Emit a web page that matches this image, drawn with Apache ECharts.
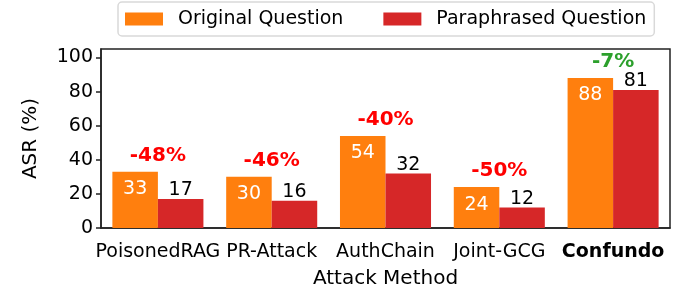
<!DOCTYPE html>
<html><head><meta charset="utf-8">
<script src="https://cdn.jsdelivr.net/npm/echarts@6/dist/echarts.min.js"></script>
<style>html,body{margin:0;padding:0;background:#fff;overflow:hidden}#c{width:691px;height:286px}</style>
</head><body><div id="c"></div>
<script>
const categories = ['PoisonedRAG', 'PR-Attack', 'AuthChain', 'Joint-GCG', 'Confundo'];
const original = [33, 30, 54, 24, 88];
const paraphrased = [17, 16, 32, 12, 81];
const changeLabels = ['-48%', '-46%', '-40%', '-50%', '-7%'];
const changeColors = ['#ff0000', '#ff0000', '#ff0000', '#ff0000', '#2ca02c'];
const yTicks = [0, 20, 40, 60, 80, 100];

const FONT = 'DejaVu Sans';
const chart = echarts.init(document.getElementById('c'), null, {renderer: 'canvas'});
chart.setOption({
  animation: false,
  textStyle: {fontFamily: FONT},
  grid: {left: 101, right: 21, top: 49, bottom: 58, show: true, borderColor: '#222', borderWidth: 1.5,
         containLabel: false, outerBoundsMode: 'none'},
  legend: {
    top: 2, left: 118,
    data: ['Original Question', 'Paraphrased Question'],
    itemWidth: 38, itemHeight: 13, itemGap: 40,
    textStyle: {fontFamily: FONT, fontSize: 19, color: '#000', lineHeight: 20, padding: [0, 0, 0, 10]},
    borderColor: '#d9d9d9', borderWidth: 1.5, borderRadius: 4,
    padding: [7, 8, 7, 7],
    icon: 'rect'
  },
  xAxis: {
    type: 'category', data: categories,
    name: 'Attack Method', nameLocation: 'middle', nameGap: 41,
    nameTextStyle: {fontFamily: FONT, fontSize: 20, color: '#000'},
    axisLine: {lineStyle: {color: '#222', width: 1.5}},
    axisTick: {alignWithLabel: true, length: 5, lineStyle: {color: '#222', width: 1.5}},
    axisLabel: {
      interval: 0,
      fontFamily: FONT, fontSize: 19, color: '#000', margin: 15,
      formatter: v => v === 'Confundo' ? '{b|' + v + '}' : v,
      rich: {b: {fontFamily: FONT, fontSize: 19, fontWeight: 'bold', color: '#000'}}
    }
  },
  yAxis: {
    type: 'value', min: 0, max: 105, interval: 20,
    name: 'ASR (%)', nameLocation: 'middle', nameGap: 60, nameRotate: 90,
    nameTextStyle: {fontFamily: FONT, fontSize: 20, color: '#000'},
    splitLine: {show: false},
    axisLine: {show: true, lineStyle: {color: '#222', width: 1.5}},
    axisTick: {show: true, length: 5, customValues: yTicks, lineStyle: {color: '#222', width: 1.5}},
    axisLabel: {fontFamily: FONT, fontSize: 19, color: '#000', margin: 8, customValues: yTicks}
  },
  series: [
    {
      name: 'Original Question', type: 'bar', data: original,
      barGap: '0%', barCategoryGap: '20%',
      itemStyle: {color: '#ff7f0e'},
      label: {show: true, position: 'insideTop', distance: 8, color: '#fff', fontFamily: FONT, fontSize: 19}
    },
    {
      name: 'Paraphrased Question', type: 'bar', data: paraphrased,
      itemStyle: {color: '#d62728'},
      label: {show: true, position: 'top', distance: -1, color: '#000', fontFamily: FONT, fontSize: 19}
    },
    {
      name: 'change', type: 'scatter', symbolSize: 0,
      itemStyle: {opacity: 1},
      data: original.map((v, i) => ({
        value: [i, v],
        label: {color: changeColors[i]}
      })),
      label: {
        show: true, position: 'top', distance: 6,
        fontFamily: FONT, fontSize: 20, fontWeight: 'bold',
        formatter: p => changeLabels[p.dataIndex]
      },
      tooltip: {show: false}
    }
  ]
});
</script></body></html>
